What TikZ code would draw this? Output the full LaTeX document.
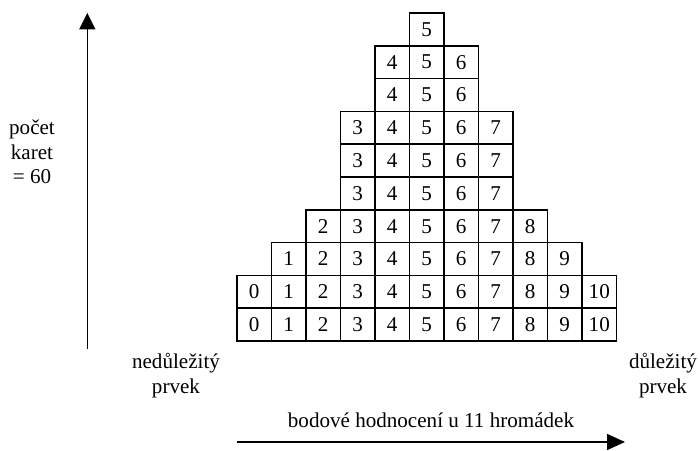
\documentclass[tikz,border=0pt]{standalone}
\usepackage{fontspec}
\setmainfont{Liberation Serif}
\usetikzlibrary{arrows.meta}
\begin{document}
\begin{tikzpicture}[font=\fontsize{12}{14}\selectfont,
  cell/.style={draw,line width=1pt,minimum width=0.69cm,minimum height=0.656cm,inner sep=0pt}]
\def \cw{0.69};
\def \ch{0.656};
\def \xl{4.74};
\def \yl{2.18};
\useasboundingbox (0,0) rectangle (14,9);
% stacked cards, one row at a time from the bottom
\foreach \r/\lo/\hi in {1/0/10,2/0/10,3/1/9,4/2/8,5/3/7,6/3/7,7/3/7,8/4/6,9/4/6,10/5/5}
  \foreach \c in {\lo,...,\hi}
    \node[cell] (C\r-\c) at ({\xl+\cw*(\c+0.5)},{\yl+\ch*(\r-0.5)}) {\c};
% axes
\coordinate (VA) at (1.746,2.02);
\coordinate (VB) at (1.746,8.74);
\coordinate (HA) at (\xl,0.16);
\coordinate (HB) at (12.5,0.16);
\draw[line width=0.9pt,-{Triangle[width=0.32cm,length=0.33cm]}] (VA) -- (VB);
\draw[line width=0.8pt,-{Triangle[width=0.32cm,length=0.36cm]}] (HA) -- (HB);
\draw[line width=1.6pt] (HA) -- ++(0.42,0);
\node[align=center] (pocet) at (0.64,5.96) {počet\\karet\\= 60};
\node[align=center] (nedul) at (3.52,1.49) {nedůležitý\\prvek};
\node[align=center] (dul) at (13.26,1.49) {důležitý\\prvek};
\node[anchor=base] (body) at (8.62,0.46) {bodové hodnocení u 11 hromádek};
\end{tikzpicture}
\end{document}
